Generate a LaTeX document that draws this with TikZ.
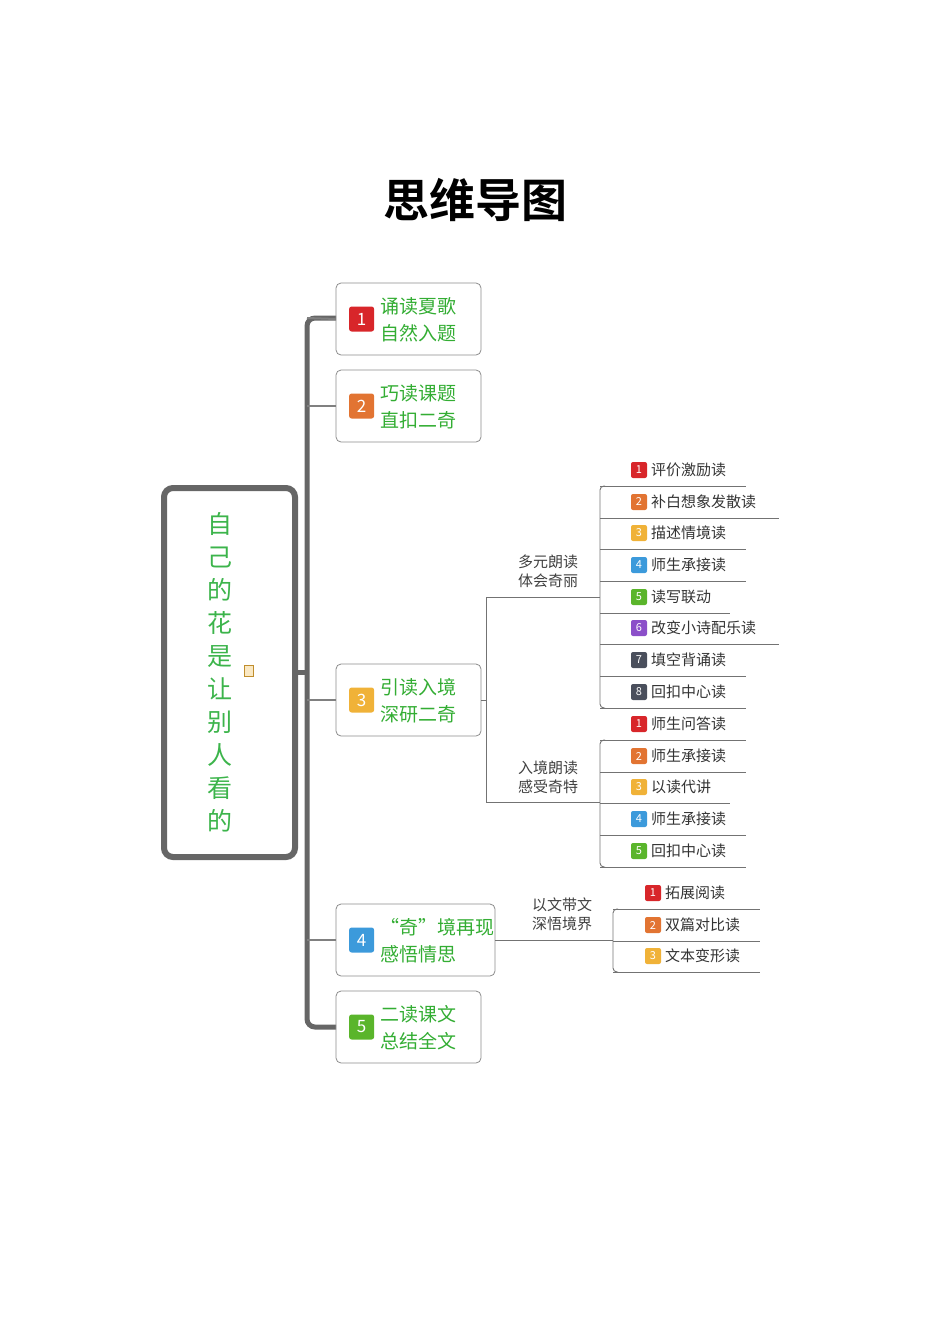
\documentclass[tikz,border=0pt]{standalone}
\usepackage{fontspec}
\setmainfont{Noto Sans CJK SC}
\newfontfamily\cjkb{Noto Sans CJK SC Bold}
\begin{document}
\begin{tikzpicture}[x=1pt,y=-1pt,
  bbox/.style={draw=black!45,line width=0.8pt,rounded corners=5pt,minimum width=145pt,minimum height=72pt,inner sep=0pt},
  btext/.style={text=green!60!black!80!white,font=\fontsize{19}{27}\selectfont,align=left,anchor=west,inner sep=0pt},
  badge/.style={fill=#1,rounded corners=2.5pt,minimum size=25pt,inner sep=0pt,text=white,font=\fontsize{17}{17}\selectfont},
  sbadge/.style={fill=#1,rounded corners=2pt,minimum size=16pt,inner sep=0pt,text=white,font=\fontsize{11}{11}\selectfont},
  leaf/.style={anchor=west,inner sep=0pt,text=black!80,font=\fontsize{15}{15}\selectfont},
  sub/.style={inner sep=0pt,text=black!75,font=\fontsize{15}{19}\selectfont,align=center},
  thin/.style={draw=black!55,line width=0.9pt},
  br/.style={draw=black!50,line width=2pt},
  trunk/.style={draw=black!60,line width=5pt}]
\definecolor{cR}{HTML}{D8262A}\definecolor{cO}{HTML}{E27432}
\definecolor{cY}{HTML}{F0B238}\definecolor{cB}{HTML}{3C9ADB}
\definecolor{cG}{HTML}{5AB52B}\definecolor{cP}{HTML}{8B4FC9}
\definecolor{cK}{HTML}{4A4F5C}\definecolor{gtx}{HTML}{3CB44B}
\useasboundingbox (0,0) rectangle (950,1344);
\node[font=\cjkb\fontsize{46}{46}\selectfont] (title) at (475,200) {思维导图};
% root
\node[draw=black!60,line width=6pt,rounded corners=9pt,minimum width=131pt,minimum height=369pt] (root) at (229.5,672.5) {};
\node[text=gtx,font=\fontsize{25}{33}\selectfont,align=center,inner sep=0pt] (rt) at (220,672) {自\\己\\的\\花\\是\\让\\别\\人\\看\\的};
\node[draw=cY!80!black,fill=cY!30,minimum width=9pt,minimum height=11pt,inner sep=0pt] (note) at (249,671) {};
% trunk
\draw[trunk,rounded corners=6pt] (root.east) ++(0,-0.5) -- (307,672);
\draw[trunk,rounded corners=8pt] (336,318) -- (307,318) -- (307,1027) -- (336,1027);
% branch boxes
\node[bbox] (b1) at (408.5,319) {};
\node[bbox] (b2) at (408.5,406) {};
\node[bbox] (b3) at (408.5,700) {};
\node[bbox,minimum width=159pt] (b4) at (415.5,940) {};
\node[bbox] (b5) at (408.5,1027) {};
\foreach \n/\c/\k/\t in {b1/cR/1/{诵读夏歌\\自然入题},b2/cO/2/{巧读课题\\直扣二奇},b3/cY/3/{引读入境\\深研二奇},b4/cB/4/{“奇”境再现\\感悟情思},b5/cG/5/{二读课文\\总结全文}}{
  \node[badge=\c] (\n k) at ([xshift=26pt]\n.west) {\k};
  \node[btext] (\n t) at ([xshift=45pt,yshift=-1pt]\n.west) {\t};
}
\draw[br] (307,406) -- (b2.west);
\draw[br] (307,700) -- (b3.west);
\draw[br] (307,940) -- (b4.west);
\draw[br] (b1.west) -- (307,318);
% group 1
\node[sub] (s1) at (548,571) {多元朗读\\体会奇丽};
\node[sub] (s2) at (548,777) {入境朗读\\感受奇特};
\node[sub] (s3) at (562,914) {以文带文\\深悟境界};
\coordinate (j1) at (486,597);
\coordinate (j2) at (486,802);
\draw[thin] (b3.east) -- (486,700);
\draw[thin] (j1) -- (j2);
\draw[thin] (j1) -- (600,597);
\draw[thin] (j2) -- (600,802);
\foreach \i/\y/\c/\e/\t in {1/470/cR/746/评价激励读,2/502/cO/779/补白想象发散读,3/533/cY/746/描述情境读,4/565/cB/746/师生承接读,5/597/cG/730/读写联动,6/628/cP/779/改变小诗配乐读,7/660/cK/746/填空背诵读,8/692/cK/746/回扣中心读}{
  \node[sbadge=\c] (ga\i) at (639,\y) {\i};
  \node[leaf] (la\i) at (651,\y) {\t};
  \draw[thin] (600,\y+16) -- (\e,\y+16);
}
\draw[thin,rounded corners=4pt] (605,486) -- (600,486) -- (600,708) -- (605,708);
\foreach \i/\y/\c/\e/\t in {1/724/cR/746/师生问答读,2/756/cO/746/师生承接读,3/787/cY/730/以读代讲,4/819/cB/746/师生承接读,5/851/cG/746/回扣中心读}{
  \node[sbadge=\c] (gb\i) at (639,\y) {\i};
  \node[leaf] (lb\i) at (651,\y) {\t};
  \draw[thin] (600,\y+16) -- (\e,\y+16);
}
\draw[thin,rounded corners=4pt] (605,740) -- (600,740) -- (600,867) -- (605,867);
% group 3
\draw[thin] (b4.east) -- (613,940);
\foreach \i/\y/\c/\e/\t in {1/893/cR/760/拓展阅读,2/925/cO/760/双篇对比读,3/956/cY/760/文本变形读}{
  \node[sbadge=\c] (gc\i) at (653,\y) {\i};
  \node[leaf] (lc\i) at (665,\y) {\t};
  \draw[thin] (613,\y+16) -- (\e,\y+16);
}
\draw[thin,rounded corners=4pt] (618,909) -- (613,909) -- (613,972) -- (618,972);
\end{tikzpicture}
\end{document}
